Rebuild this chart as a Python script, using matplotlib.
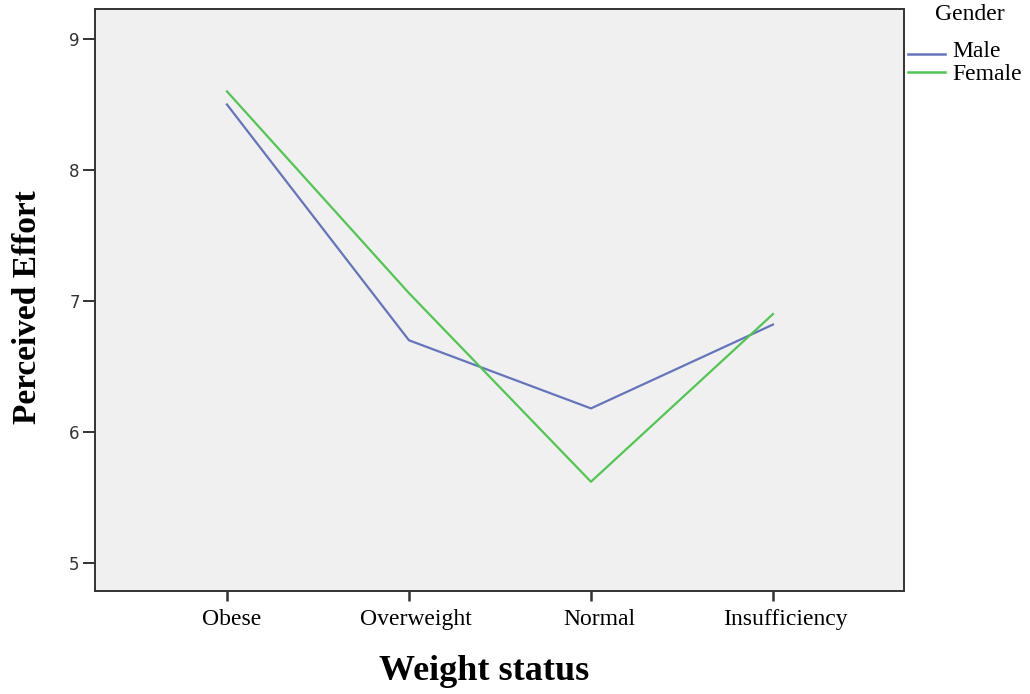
import matplotlib
matplotlib.use("Agg")
import matplotlib.pyplot as plt
import matplotlib.transforms as mtransforms
from matplotlib.lines import Line2D

categories = ["Obese", "Overweight", "Normal", "Insufficiency"]
male = [8.50, 6.70, 6.18, 6.82]
female = [8.60, 7.06, 5.62, 6.90]
yticks = [5, 6, 7, 8, 9]

W, H = 1030, 694
fig = plt.figure(figsize=(W/100, H/100), dpi=100)
ax = fig.add_axes([95/W, 1 - 591/H, (904-95)/W, (591-9)/H])
ax.set_facecolor("#f0f0f0")

MALE_C = "#6474bd"
FEMALE_C = "#52c552"
x = list(range(len(categories)))
ax.plot(x, male, color=MALE_C, lw=1.6, label="Male")
ax.plot(x, female, color=FEMALE_C, lw=1.6, label="Female")

ax.set_xlim(-0.725, 3.72)
ax.set_ylim(4.786, 9.229)
ax.set_xticks(x)
ax.set_xticklabels(categories, fontfamily="Liberation Serif", fontsize=17)
ax.set_yticks(yticks)
ax.set_yticklabels([str(v) for v in yticks], fontfamily="DejaVu Sans", fontsize=12, color="#333333")
ax.tick_params(axis="y", length=9, width=1.4, color="#333333", pad=2)
ax.tick_params(axis="x", length=7, width=1.8, color="#333333", pad=6)
for s in ax.spines.values():
    s.set_linewidth(1.4)
    s.set_color("#333333")

offsets = [5, 7, 8, 12]
for lab, dx in zip(ax.get_xticklabels(), offsets):
    lab.set_transform(lab.get_transform() + mtransforms.ScaledTranslation(dx/100, 0, fig.dpi_scale_trans))

fig.text(484/W, 1 - 672/H, "Weight status", fontfamily="Liberation Serif", fontweight="bold",
         fontsize=26, ha="center", va="center")
fig.text(28/W, 1 - 307/H, "Perceived Effort", fontfamily="Liberation Serif", fontweight="bold",
         fontsize=24, ha="center", va="center", rotation=90)

# legend (drawn manually to match positions)
fig.text(970/W, 1 - 14/H, "Gender", fontfamily="Liberation Serif", fontsize=17, ha="center", va="center")
legend_items = [("Male", MALE_C, 57, 54), ("Female", FEMALE_C, 80, 72)]
for name, col, base_y, line_y in legend_items:
    fig.add_artist(Line2D([908/W, 945/W], [1 - line_y/H, 1 - line_y/H], color=col, lw=1.8,
                          transform=fig.transFigure))
    fig.text(952/W, 1 - base_y/H, name, fontfamily="Liberation Serif", fontsize=17,
             ha="left", va="baseline")

fig.savefig("out.png", dpi=100)
